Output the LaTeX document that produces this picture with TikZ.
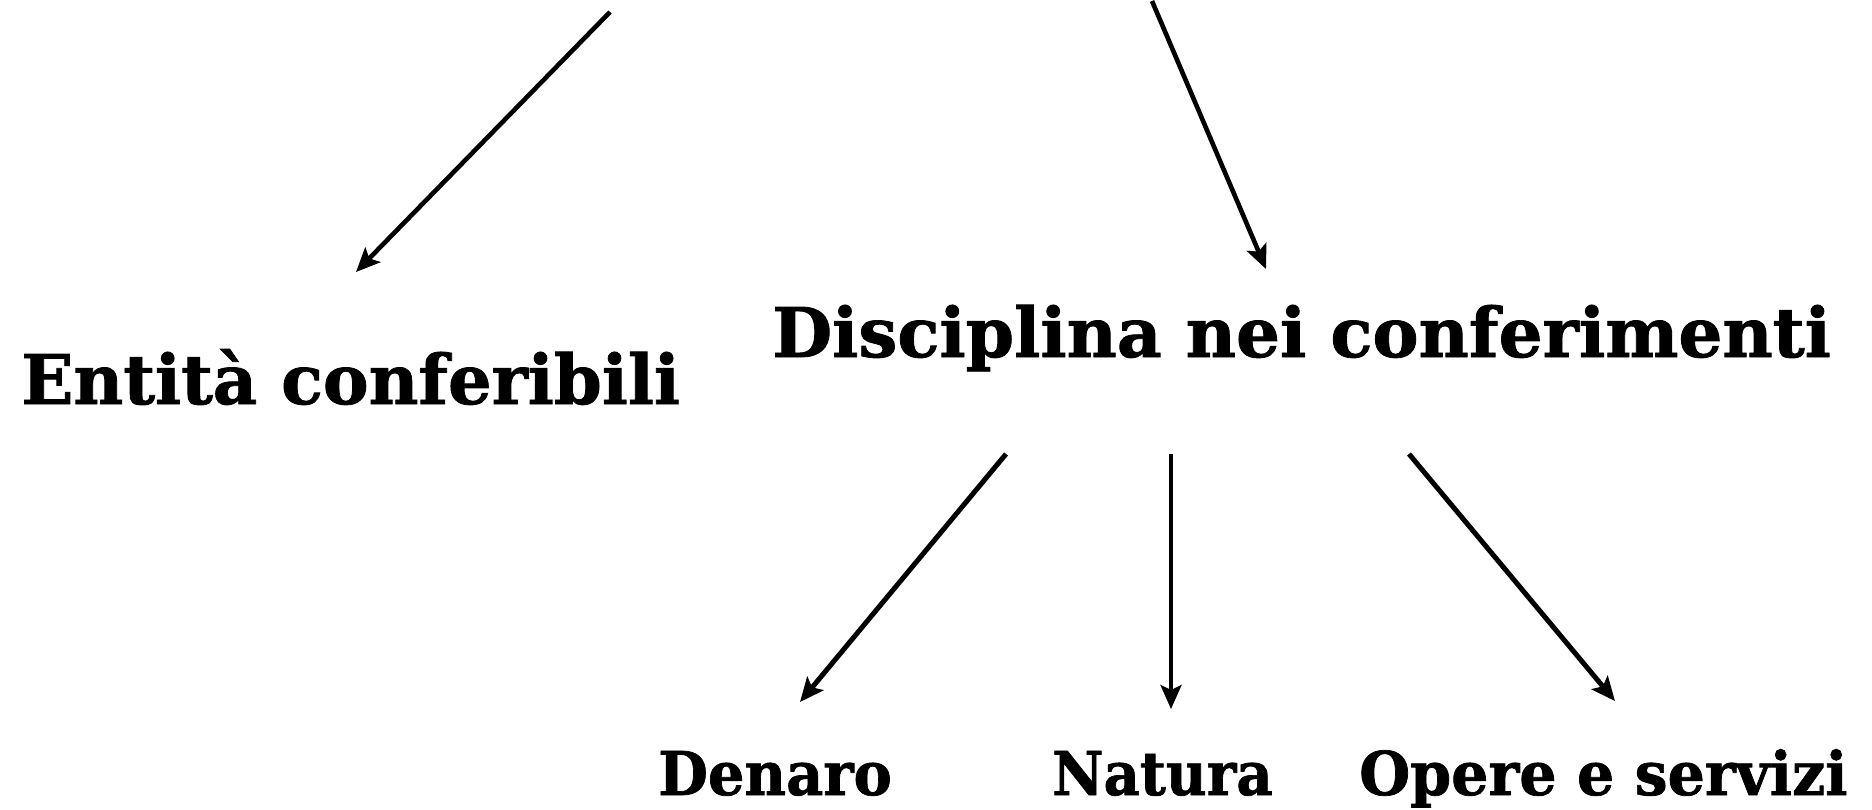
\documentclass[tikz,border=0pt]{standalone}
\usepackage{fontspec}
\setmainfont{DejaVu Serif}[BoldFeatures={FakeBold=1.2}]
\usetikzlibrary{arrows.meta}
\tikzset{
  big/.style={inner sep=0pt, font=\fontsize{68.6}{70}\selectfont\bfseries},
  small/.style={inner sep=0pt, font=\fontsize{60.4}{62}\selectfont\bfseries},
  arr/.style={line width=5pt, -{Stealth[length=24pt,width=21pt,inset=5pt]}}
}
\begin{document}
\begin{tikzpicture}[x=1pt,y=-1pt]
\useasboundingbox (0,0) rectangle (1872,809);
\node[big, anchor=base west] (ent) at (21,404) {\scalebox{1.0}[1]{Entità conferibili}};
\node[big, anchor=base west] (dis) at (772,357) {\scalebox{1.008}[1]{Disciplina nei conferimenti}};
\node[small, anchor=base west] (den) at (658,795) {\scalebox{0.95}[1]{Denaro}};
\node[small, anchor=base west] (nat) at (1052,795) {\scalebox{0.93}[1]{Natura}};
\node[small, anchor=base west] (ope) at (1359,795) {\scalebox{0.97}[1]{Opere e servizi}};
\coordinate (a1s) at (610,12);
\coordinate (a1e) at (356,272);
\coordinate (a2s) at (1152,1);
\coordinate (a2e) at (1266,269);
\coordinate (b1s) at (1006,454);
\coordinate (b1e) at (800,702);
\coordinate (b2s) at (1171,454);
\coordinate (b2e) at (1171,709);
\coordinate (b3s) at (1409,454);
\coordinate (b3e) at (1615,701);
\draw[arr, line width=4.6pt] (a1s) -- (a1e);
\draw[arr, line width=4.6pt] (a2s) -- (a2e);
\draw[arr] (b1s) -- (b1e);
\draw[arr, line width=4pt] (b2s) -- (b2e);
\draw[arr] (b3s) -- (b3e);
\end{tikzpicture}
\end{document}
